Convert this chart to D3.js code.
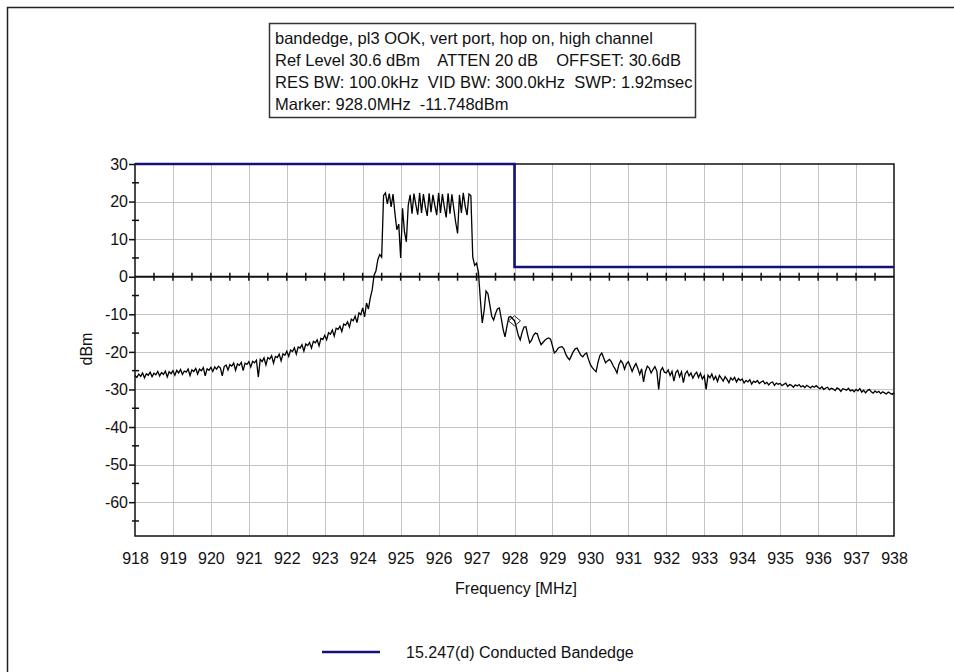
<!DOCTYPE html>
<html>
<head>
<meta charset="utf-8">
<script src="https://cdn.jsdelivr.net/npm/d3@7"></script>
<style>
  body { margin: 0; background: #fff; }
  text { font-family: "Liberation Sans", Arial, sans-serif; fill: #111; }
</style>
</head>
<body>
<svg id="chart" width="954" height="672"></svg>
<script>
// trace, one value every 0.05 MHz from 918 MHz
var traceStart = 918, traceStep = 0.05;
var traceLevel = [
  -26.3,-26.8,-25.9,-26.5,-25.6,-26.9,-25.8,-26.2,-25.4,-26.6,-25.7,-26.1,-25.2,-26.4,-25.5,-26.0,-25.1,-26.7,-25.3,-25.8,
  -25.0,-26.2,-24.9,-25.6,-24.7,-26.0,-25.1,-25.4,-24.6,-26.3,-24.8,-25.2,-24.4,-25.9,-24.6,-25.0,-24.2,-26.4,-24.5,-24.9,
  -24.1,-25.2,-24.0,-24.6,-23.8,-24.3,-26.4,-23.9,-23.5,-24.8,-23.4,-23.8,-23.0,-24.9,-23.2,-23.6,-22.8,-25.0,-23.0,-23.3,
  -22.6,-24.0,-22.5,-22.9,-22.2,-26.7,-22.0,-22.6,-21.6,-23.5,-21.5,-21.9,-21.0,-23.0,-21.2,-21.5,-20.6,-22.4,-20.5,-20.9,
  -19.8,-21.2,-19.5,-19.9,-18.9,-20.6,-18.7,-19.0,-18.1,-19.8,-17.9,-18.3,-17.5,-19.0,-17.2,-17.6,-16.8,-18.4,-16.4,-16.7,
  -15.6,-16.8,-14.9,-15.3,-14.2,-15.8,-13.7,-14.0,-13.2,-14.6,-12.6,-12.9,-12.0,-13.4,-11.3,-11.7,-10.5,-12.2,-9.6,-10.1,
  -8.3,-10.7,-7.0,-8.6,-5.6,-3.5,0.4,1.6,4.6,5.9,5.2,21.6,22.3,19.4,22.1,18.6,22.0,16.8,12.5,14.0,
  5.0,18.2,12.0,9.3,19.0,21.8,16.8,22.1,19.2,16.5,22.3,17.0,22.0,18.6,16.2,22.2,17.2,21.8,19.0,16.4,
  22.3,17.0,22.0,18.6,15.8,22.2,16.8,21.9,18.2,14.5,11.5,21.8,17.0,22.3,18.8,16.4,22.0,21.6,5.2,3.0,
  3.6,1.2,-6.0,-12.3,-9.0,-3.8,-4.5,-7.5,-10.5,-11.5,-9.8,-8.6,-8.3,-11.0,-14.0,-16.0,-13.2,-10.8,-10.6,-11.2,
  -11.7,-13.5,-15.6,-16.8,-14.8,-13.4,-13.3,-15.6,-17.6,-16.9,-15.6,-15.0,-15.2,-16.8,-18.1,-17.5,-16.9,-16.5,-16.3,-16.6,
  -18.4,-20.3,-19.8,-19.0,-18.7,-18.6,-19.2,-20.6,-21.5,-22.1,-21.0,-19.9,-19.2,-19.0,-20.0,-20.9,-21.3,-20.6,-20.3,-22.0,
  -23.4,-24.2,-24.8,-25.3,-22.8,-21.0,-20.3,-21.6,-22.9,-22.4,-22.0,-22.6,-23.7,-24.5,-25.6,-23.4,-22.3,-23.0,-24.6,-23.2,
  -22.6,-23.8,-25.2,-24.0,-23.1,-24.4,-26.0,-24.5,-28.0,-25.2,-23.8,-24.3,-25.6,-24.7,-23.9,-25.1,-30.0,-25.0,-24.2,-25.4,
  -25.6,-24.8,-26.3,-25.2,-27.8,-25.5,-24.9,-26.6,-25.3,-28.2,-25.8,-25.1,-26.4,-25.6,-27.0,-26.0,-25.4,-26.8,-25.7,-27.2,
  -26.4,-30.0,-26.2,-26.9,-25.9,-27.4,-26.5,-27.9,-26.3,-27.0,-27.8,-26.6,-27.3,-28.2,-26.9,-27.5,-26.8,-28.0,-27.1,-27.6,
  -27.2,-28.3,-27.6,-28.0,-27.4,-28.6,-27.8,-28.1,-27.6,-28.4,-28.0,-27.7,-28.5,-28.1,-28.8,-28.2,-28.0,-28.9,-28.3,-28.6,
  -28.4,-29.0,-28.6,-28.3,-29.2,-28.7,-28.9,-29.4,-28.8,-29.1,-28.7,-29.3,-29.0,-29.5,-28.9,-29.2,-29.6,-29.1,-29.4,-29.0,
  -29.5,-29.8,-29.3,-30.0,-29.6,-29.4,-30.1,-29.7,-29.9,-30.3,-29.6,-29.9,-30.5,-29.8,-30.0,-30.2,-29.7,-30.4,-30.1,-30.6,
  -30.0,-30.4,-29.8,-30.7,-30.2,-30.9,-30.3,-30.0,-30.6,-31.0,-30.4,-30.8,-30.5,-31.1,-30.6,-30.9,-31.2,-30.7,-31.0,-31.3,
  -30.9
];

// 15.247(d) limit line
var limitFreq = [918, 928, 928, 938];
var limitLevel = [30, 30, 2.6, 2.6];

var markerFreq = 928.0, markerLevel = -11.748;

var xTickLabels = [918,919,920,921,922,923,924,925,926,927,928,929,930,931,932,933,934,935,936,937,938];
var yTickLabels = [30,20,10,0,-10,-20,-30,-40,-50,-60];
var yMinorTicks = [25,15,5,-5,-15,-25,-35,-45,-55,-65];
var zeroTicks = [918.5,919,919.5,920,920.5,921,921.5,922,922.5,923,923.5,924,924.5,925,925.5,926,926.5,927,927.5,
  928,928.5,929,929.5,930,930.5,931,931.5,932,932.5,933,933.5,934,934.5,935,935.5,936,936.5,937,937.5];

var infoLines = [
  "bandedge, pl3 OOK, vert port, hop on, high channel",
  "Ref Level 30.6 dBm    ATTEN 20 dB    OFFSET: 30.6dB",
  "RES BW: 100.0kHz  VID BW: 300.0kHz  SWP: 1.92msec",
  "Marker: 928.0MHz  -11.748dBm"
];
var legendLabel = "15.247(d) Conducted Bandedge";

var navy = "#12127a";
var svg = d3.select("#chart");

var x = d3.scaleLinear().domain([918, 938]).range([135, 894]);
var y = d3.scaleLinear().domain([-69, 30]).range([536, 164]);

// outer frame (only left/top edges fall inside the picture)
svg.append("rect")
  .attr("x", 7.5).attr("y", 7.5)
  .attr("width", 990).attr("height", 700)
  .attr("fill", "none").attr("stroke", "#222").attr("stroke-width", 1.5);

// info box
var box = svg.append("g");
box.append("rect")
  .attr("x", 269.5).attr("y", 23.5).attr("width", 426).attr("height", 94)
  .attr("fill", "#fff").attr("stroke", "#333").attr("stroke-width", 1.5);
box.selectAll("text").data(infoLines).enter().append("text")
  .attr("x", 275)
  .attr("y", function(d, i) { return 44 + i * 22; })
  .style("white-space", "pre")
  .attr("font-size", 16.5)
  .text(function(d) { return d; });

// grid
var grid = svg.append("g").attr("stroke", "#c4c4c4").attr("stroke-width", 1);
grid.selectAll("line.v").data(xTickLabels.slice(1, -1)).enter().append("line")
  .attr("x1", function(d) { return Math.round(x(d)) + 0.5; })
  .attr("x2", function(d) { return Math.round(x(d)) + 0.5; })
  .attr("y1", y(30)).attr("y2", y(-69));
grid.selectAll("line.h").data(yTickLabels.filter(function(d) { return d != 30 && d != 0; })).enter().append("line")
  .attr("x1", x(918)).attr("x2", x(938))
  .attr("y1", function(d) { return Math.round(y(d)) + 0.5; })
  .attr("y2", function(d) { return Math.round(y(d)) + 0.5; });

// plot border
svg.append("rect")
  .attr("x", x(918)).attr("y", y(30))
  .attr("width", x(938) - x(918)).attr("height", y(-69) - y(30))
  .attr("fill", "none").attr("stroke", "#111").attr("stroke-width", 1.5);

// zero line with half-MHz ticks
svg.append("line")
  .attr("x1", x(918)).attr("x2", x(938))
  .attr("y1", y(0)).attr("y2", y(0))
  .attr("stroke", "#111").attr("stroke-width", 2);
svg.append("g").selectAll("line").data(zeroTicks).enter().append("line")
  .attr("x1", function(d) { return x(d); }).attr("x2", function(d) { return x(d); })
  .attr("y1", y(0) - 4).attr("y2", y(0) + 4)
  .attr("stroke", "#111").attr("stroke-width", 1.5);

// y axis (plain hyphen for negatives, like the analyzer software)
var yAxis = svg.append("g")
  .attr("transform", "translate(" + x(918) + ",0)")
  .call(d3.axisLeft(y).tickValues(yTickLabels).tickSize(6).tickPadding(1).tickFormat(function(d) { return String(d); }));
yAxis.select(".domain").remove();
yAxis.selectAll("line").attr("stroke", "#111").attr("stroke-width", 1.5);
yAxis.selectAll("text").attr("font-size", 16).attr("font-family", null).attr("fill", "#111");
svg.append("g").selectAll("line").data(yMinorTicks).enter().append("line")
  .attr("x1", x(918) - 3).attr("x2", x(918) + 4)
  .attr("y1", function(d) { return y(d); }).attr("y2", function(d) { return y(d); })
  .attr("stroke", "#111").attr("stroke-width", 1.5);

// x axis labels
var xAxis = svg.append("g")
  .attr("transform", "translate(0," + y(-69) + ")")
  .call(d3.axisBottom(x).tickValues(xTickLabels).tickSize(0).tickPadding(17).tickFormat(function(d) { return String(d); }));
xAxis.select(".domain").remove();
xAxis.selectAll("text").attr("font-size", 16).attr("font-family", null).attr("fill", "#111");

svg.append("text")
  .attr("x", 516).attr("y", 594)
  .attr("text-anchor", "middle").attr("font-size", 16)
  .text("Frequency [MHz]");
svg.append("text")
  .attr("transform", "translate(92,349) rotate(-90)")
  .attr("text-anchor", "middle").attr("font-size", 16)
  .text("dBm");

// limit line
var limitLine = d3.line()
  .x(function(d, i) { return x(limitFreq[i]); })
  .y(function(d, i) { return y(limitLevel[i]); });
svg.append("path")
  .attr("d", limitLine(limitFreq))
  .attr("fill", "none").attr("stroke", navy).attr("stroke-width", 2.6);

// measured trace
var traceLine = d3.line()
  .x(function(d, i) { return x(traceStart + i * traceStep); })
  .y(function(d) { return y(d); });
svg.append("path")
  .attr("d", traceLine(traceLevel))
  .attr("fill", "none").attr("stroke", "#000").attr("stroke-width", 1.3);

// marker diamond
var mx = x(markerFreq), my = y(markerLevel);
svg.append("path")
  .attr("d", d3.line()([[mx - 6, my], [mx, my - 5], [mx + 6, my], [mx, my + 5], [mx - 6, my]]))
  .attr("fill", "none").attr("stroke", "#222").attr("stroke-width", 1);

// legend
svg.append("line")
  .attr("x1", 322).attr("x2", 380).attr("y1", 652).attr("y2", 652)
  .attr("stroke", navy).attr("stroke-width", 2.6);
svg.append("text")
  .attr("x", 406).attr("y", 658).attr("font-size", 16)
  .text(legendLabel);
</script>
</body>
</html>
